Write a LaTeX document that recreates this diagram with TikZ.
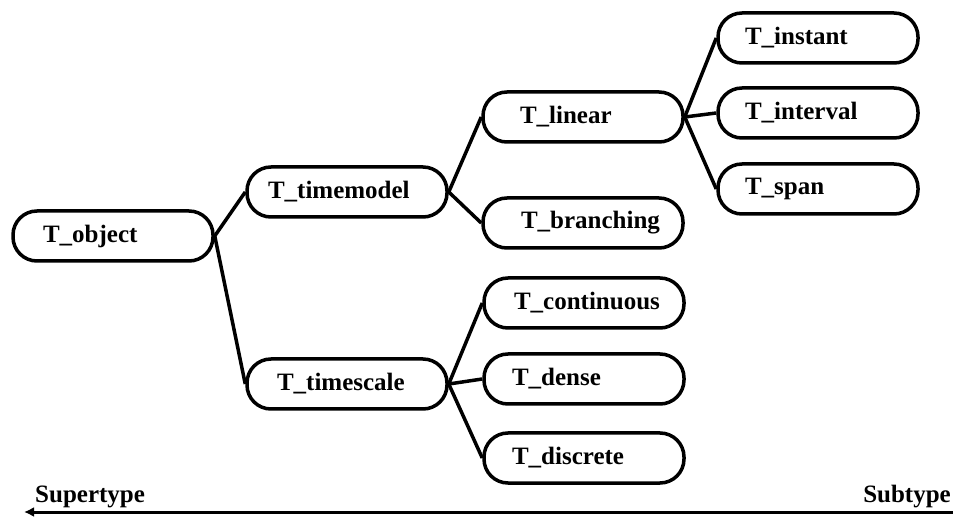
\documentclass[tikz,border=0pt]{standalone}
\usepackage{fontspec}
\setmainfont{Liberation Serif}
\usetikzlibrary{arrows.meta}
\begin{document}
\begin{tikzpicture}[x=1pt,y=-1pt,
  tbox/.style={draw, line width=3.5pt, rounded corners=24pt, minimum height=50pt,
    inner xsep=0pt, inner ysep=0pt, font=\fontsize{25}{30}\selectfont\bfseries},
  link/.style={line width=3.5pt}]
\useasboundingbox (0,0) rectangle (956,518);
\newcommand{\lbl}[2]{\makebox[200pt][l]{\hspace*{#1pt}#2}}
\node[tbox] (obj) at (113,236) {\lbl{30}{T\_object}};
\node[tbox] (tm) at (347,192) {\lbl{21}{T\_timemodel}};
\node[tbox] (ts) at (347,384) {\lbl{30}{T\_timescale}};
\node[tbox] (lin) at (583,117) {\lbl{37}{T\_linear}};
\node[tbox] (br) at (583,223) {\lbl{38}{T\_branching}};
\node[tbox] (ins) at (818,38) {\lbl{27}{T\_instant}};
\node[tbox] (int) at (818,113) {\lbl{27}{T\_interval}};
\node[tbox] (sp) at (818,189) {\lbl{27}{T\_span}};
\node[tbox] (con) at (584,303) {\lbl{30}{T\_continuous}};
\node[tbox] (den) at (584,379) {\lbl{28}{T\_dense}};
\node[tbox] (dis) at (584,458) {\lbl{28}{T\_discrete}};
\draw[link] (obj.east) -- (tm.west);
\draw[link] (obj.east) -- (ts.west);
\draw[link] (tm.east) -- (lin.west);
\draw[link] (tm.east) -- (br.west);
\draw[link] (lin.east) -- (ins.west);
\draw[link] (lin.east) -- (int.west);
\draw[link] (lin.east) -- (sp.west);
\draw[link] (ts.east) -- (con.west);
\draw[link] (ts.east) -- (den.west);
\draw[link] (ts.east) -- (dis.west);
\node[font=\fontsize{25}{30}\selectfont\bfseries, anchor=base west, inner sep=0pt] (sup) at (35,502) {Supertype};
\node[font=\fontsize{25}{30}\selectfont\bfseries, anchor=base east, inner sep=0pt] (sub) at (951,502) {Subtype};
\coordinate (la) at (24,512);
\coordinate (ra) at (953,512);
\draw[line width=3pt, {Latex[length=10pt,width=10pt]}-] (la) -- (ra);
\end{tikzpicture}
\end{document}
